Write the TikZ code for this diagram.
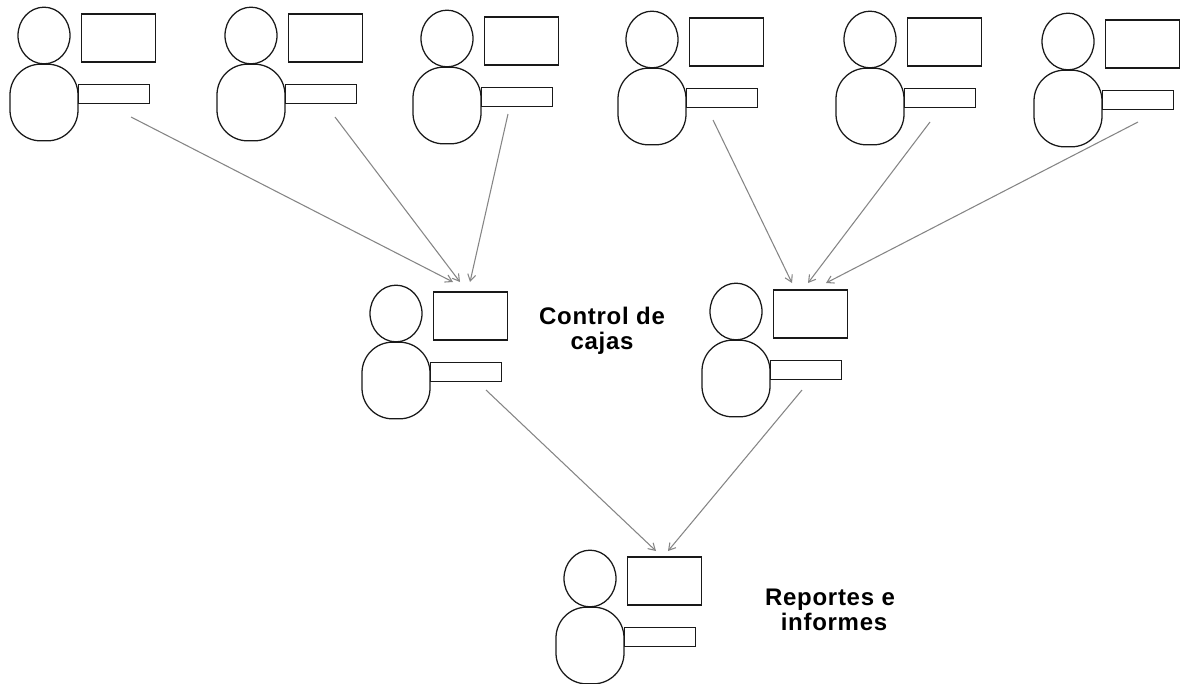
\documentclass[tikz,border=0pt]{standalone}
\usepackage{fontspec}
\setmainfont{Liberation Sans}
\newfontfamily\lblfont[LetterSpace=3]{Liberation Sans}
\usetikzlibrary{arrows.meta,shapes.geometric}
\tikzset{
  x=0.75pt,y=-0.75pt,
  partline/.style={draw=black!90,line width=0.95pt,inner sep=0pt,outer sep=0pt},
  headshape/.style={partline,ellipse,minimum width=39pt,minimum height=42.5pt},
  bodyshape/.style={partline,rectangle,rounded corners=23pt,minimum width=51pt,minimum height=57.5pt},
  screenshape/.style={partline,rectangle,minimum width=56pt,minimum height=36pt},
  keysshape/.style={partline,rectangle,minimum width=53.5pt,minimum height=14.5pt},
  feed/.style={draw=black!48,line width=0.8pt,-{Straight Barb[length=5pt,width=6pt]}},
  lbl/.style={font=\fontsize{18pt}{18.5pt}\lblfont\bfseries,align=center,inner sep=0pt}
}
\newcommand{\person}[3]{%
  \node[bodyshape] (#1body) at (44+#2,102.5+#3) {};
  \node[headshape] (#1head) at (44+#2,35.5+#3) {};
  \node[screenshape] (#1screen) at (118.5+#2,38+#3) {};
  \node[keysshape] (#1keys) at (114+#2,94+#3) {};
}
\begin{document}
\begin{tikzpicture}
\useasboundingbox (0,0) rectangle (1185,683);
\person{a}{0}{0}
\person{b}{207}{0}
\person{c}{403}{3}
\person{d}{608}{4}
\person{e}{826}{4}
\person{f}{1024}{6}
\person{m}{352}{278}
\person{n}{692}{276}
\person{r}{546}{543}
\coordinate (aout) at (131,117);
\coordinate (bout) at (335,117);
\coordinate (cout) at (508,114);
\coordinate (dout) at (713,120);
\coordinate (eout) at (930,122);
\coordinate (fout) at (1138,122);
\coordinate (mout) at (486,390);
\coordinate (nout) at (802,390);
\coordinate (mina) at (453,282);
\coordinate (minb) at (460,282);
\coordinate (minc) at (470,282);
\coordinate (nind) at (792,283);
\coordinate (nine) at (808,283);
\coordinate (ninf) at (826,283);
\coordinate (rinm) at (656,551);
\coordinate (rinn) at (668,551);
\draw[feed] (aout) -- (mina);
\draw[feed] (bout) -- (minb);
\draw[feed] (cout) -- (minc);
\draw[feed] (dout) -- (nind);
\draw[feed] (eout) -- (nine);
\draw[feed] (fout) -- (ninf);
\draw[feed] (mout) -- (rinm);
\draw[feed] (nout) -- (rinn);
\node[lbl] (control) at (602,331) {Control de\\cajas};
\node[lbl] (reportes) at (830,610) {Reportes e\\\hspace*{6pt}informes};
\end{tikzpicture}
\end{document}
